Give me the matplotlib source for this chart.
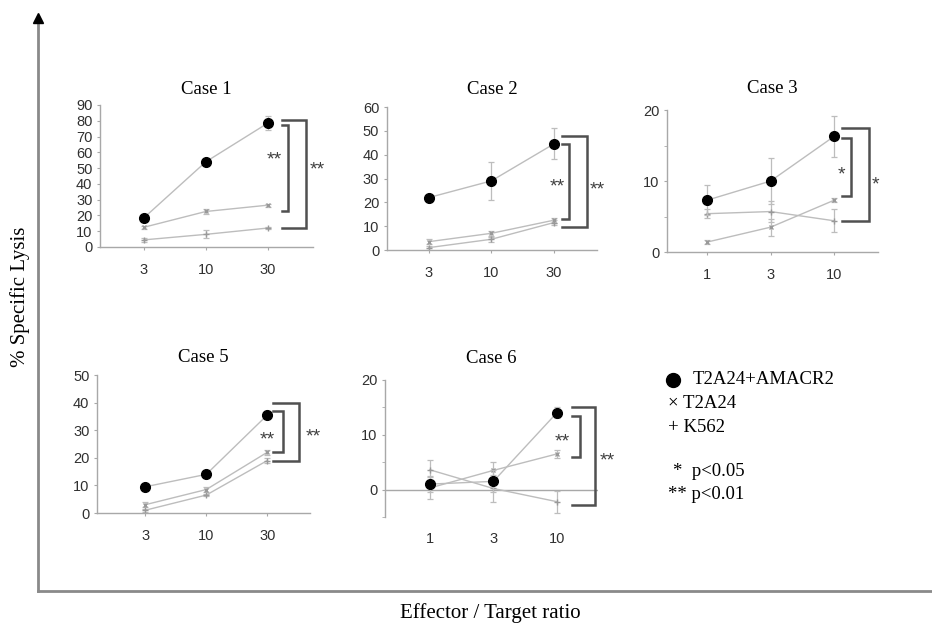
import numpy as np
import matplotlib.pyplot as plt
from matplotlib.lines import Line2D
from matplotlib.ticker import MultipleLocator

# data
c1_x = ["3", "10", "30"]
c1_dot = [18.5, 54, 78.5]
c1_dot_err = [1, 1, 4.5]
c1_t2 = [12.5, 22.5, 26.5]
c1_t2_err = [0.8, 1.5, 1]
c1_k = [4.5, 8, 12]
c1_k_err = [1.5, 2.5, 0.8]

c2_x = ["3", "10", "30"]
c2_dot = [22, 29, 44.5]
c2_dot_err = [1, 8, 6.5]
c2_t2 = [3.5, 7, 12.5]
c2_t2_err = [1, 1, 1]
c2_k = [1, 4.5, 11.5]
c2_k_err = [0.8, 1, 1]

c3_x = ["1", "3", "10"]
c3_dot = [7.3, 10, 16.3]
c3_dot_err = [2.1, 3.2, 2.9]
c3_t2 = [1.4, 3.5, 7.3]
c3_t2_err = [0.3, 1.2, 0.3]
c3_k = [5.4, 5.7, 4.4]
c3_k_err = [0.6, 1.5, 1.6]

c5_x = ["3", "10", "30"]
c5_dot = [9.5, 14, 35.5]
c5_dot_err = [0.5, 0.5, 1.5]
c5_t2 = [3, 8.5, 22]
c5_t2_err = [1, 1, 1]
c5_k = [1, 6.5, 19]
c5_k_err = [0.5, 0.5, 1]

c6_x = ["1", "3", "10"]
c6_dot = [1, 1.5, 14]
c6_dot_err = [1.5, 2, 1]
c6_t2 = [0.3, 3.5, 6.5]
c6_t2_err = [2, 1.5, 0.8]
c6_k = [3.6, 0.2, -2.2]
c6_k_err = [1.8, 2.5, 2]

plt.rcParams['font.family'] = ['Liberation Sans', 'DejaVu Sans']
fig = plt.figure(figsize=(9.32, 6.31), dpi=100)

LINE = '#bdbdbd'
SPINE = '#a8a8a8'
BRK = '#505050'
STAR = dict(ha='center', va='center', fontsize=14, color='#404040')


def bracket(ax, x0, x1, ytop, ybot):
    ax.plot([x0, x1, x1, x0], [ytop, ytop, ybot, ybot], color=BRK, lw=1.8,
            clip_on=False, solid_joinstyle='miter')


def panel(rect, title, xl, dot, dot_e, t2, t2_e, k, k_e, ylim, major, minor, xlim, tpad=7):
    ax = fig.add_axes(rect)
    pos = np.arange(len(xl))
    ekw = dict(ecolor=LINE, elinewidth=0.9, capsize=2, capthick=0.9)
    ax.errorbar(pos, k, yerr=k_e, color=LINE, lw=1, marker='+', ms=4,
                mec='#999999', **ekw)
    ax.errorbar(pos, t2, yerr=t2_e, color=LINE, lw=1, marker='x', ms=3.5,
                mec='#999999', **ekw)
    ax.errorbar(pos, dot, yerr=dot_e, color=LINE, lw=1, marker='o', ms=7,
                mfc='black', mec='black', zorder=5, **ekw)
    ax.set_xlim(*xlim)
    ax.set_ylim(*ylim)
    ax.set_xticks(pos)
    ax.set_xticklabels(xl)
    ax.yaxis.set_major_locator(MultipleLocator(major))
    if minor:
        ax.yaxis.set_minor_locator(MultipleLocator(minor))
    ax.tick_params(axis='both', which='both', length=2.5, color=SPINE,
                   labelsize=10.5, labelcolor='#303030', pad=3)
    ax.tick_params(axis='x', pad=9)
    for s in ['top', 'right']:
        ax.spines[s].set_visible(False)
    for s in ['left', 'bottom']:
        ax.spines[s].set_color(SPINE)
        ax.spines[s].set_linewidth(1)
    ax.set_title(title, family='Liberation Serif', fontsize=13.5, pad=tpad)
    return ax


ax1 = panel([0.1073, 0.6086, 0.2285, 0.2250], "Case 1", c1_x, c1_dot, c1_dot_err,
            c1_t2, c1_t2_err, c1_k, c1_k_err, (0, 90), 10, None, (-0.71, 2.73), tpad=8)
bracket(ax1, 2.23, 2.32, 77.5, 23)
bracket(ax1, 2.23, 2.61, 80.5, 12)
ax1.text(2.1, 55, "**", **STAR)
ax1.text(2.8, 49, "**", **STAR)

ax2 = panel([0.4152, 0.6038, 0.2253, 0.2266], "Case 2", c2_x, c2_dot, c2_dot_err,
            c2_t2, c2_t2_err, c2_k, c2_k_err, (0, 60), 10, None, (-0.67, 2.69), tpad=9.5)
bracket(ax2, 2.13, 2.24, 44.5, 13)
bracket(ax2, 2.13, 2.53, 48, 9.5)
ax2.text(2.05, 26.5, "**", **STAR)
ax2.text(2.7, 25, "**", **STAR)

ax3 = panel([0.7157, 0.6006, 0.2264, 0.2250], "Case 3", c3_x, c3_dot, c3_dot_err,
            c3_t2, c3_t2_err, c3_k, c3_k_err, (0, 20), 10, 5, (-0.63, 2.69), tpad=12.5)
bracket(ax3, 2.13, 2.27, 16, 7.9)
bracket(ax3, 2.13, 2.54, 17.5, 4.4)
ax3.text(2.11, 10.8, "*", **STAR)
ax3.text(2.65, 9.5, "*", **STAR)

ax5 = panel([0.1041, 0.1870, 0.2285, 0.2187], "Case 5", c5_x, c5_dot, c5_dot_err,
            c5_t2, c5_t2_err, c5_k, c5_k_err, (0, 50), 10, None, (-0.79, 2.7), tpad=9.5)
bracket(ax5, 2.1, 2.25, 37, 22)
bracket(ax5, 2.1, 2.52, 40, 19)
ax5.text(2.0, 26.5, "**", **STAR)
ax5.text(2.75, 27.5, "**", **STAR)

ax6 = panel([0.4131, 0.1807, 0.2285, 0.2171], "Case 6", c6_x, c6_dot, c6_dot_err,
            c6_t2, c6_t2_err, c6_k, c6_k_err, (-5, 20), 10, 5, (-0.71, 2.65), tpad=12.5)
ax6.spines['bottom'].set_visible(False)
ax6.axhline(0, color=SPINE, lw=1, zorder=0)
ax6.tick_params(axis='x', length=0, pad=11)
bracket(ax6, 2.24, 2.36, 13.5, 6)
bracket(ax6, 2.24, 2.61, 15, -2.8)
ax6.text(2.09, 8.6, "**", **STAR)
ax6.text(2.8, 5.2, "**", **STAR)

# outer axes with arrow
fig.add_artist(Line2D([0.0408, 1.0], [0.0634, 0.0634], color='#8a8a8a', lw=2))
fig.add_artist(Line2D([0.0408, 0.0408], [0.0634, 0.965], color='#8a8a8a', lw=2))
fig.add_artist(Line2D([0.0408], [0.972], marker='^', ms=7, color='black', lw=0))

serif = ['Liberation Serif', 'DejaVu Sans']
fig.text(0.021, 0.53, "% Specific Lysis", rotation=90, ha='center', va='center',
         family='Liberation Serif', fontsize=15)
fig.text(0.526, 0.029, "Effector / Target ratio", ha='center', va='center',
         family='Liberation Serif', fontsize=15)

leg_y = [0.398, 0.360, 0.322, 0.252, 0.217]
fig.add_artist(Line2D([0.7225], [leg_y[0]], marker='o', ms=10, color='black', lw=0))
fig.text(0.743, leg_y[0], "T2A24+AMACR2", va='center', family=serif, fontsize=13.5)
fig.text(0.717, leg_y[1], "× T2A24", va='center', family=serif, fontsize=13.5)
fig.text(0.717, leg_y[2], "+ K562", va='center', family=serif, fontsize=13.5)
fig.text(0.722, leg_y[3], "*  p<0.05", va='center', family=serif, fontsize=13.5)
fig.text(0.717, leg_y[4], "** p<0.01", va='center', family=serif, fontsize=13.5)

fig.savefig("out.png", dpi=100)
